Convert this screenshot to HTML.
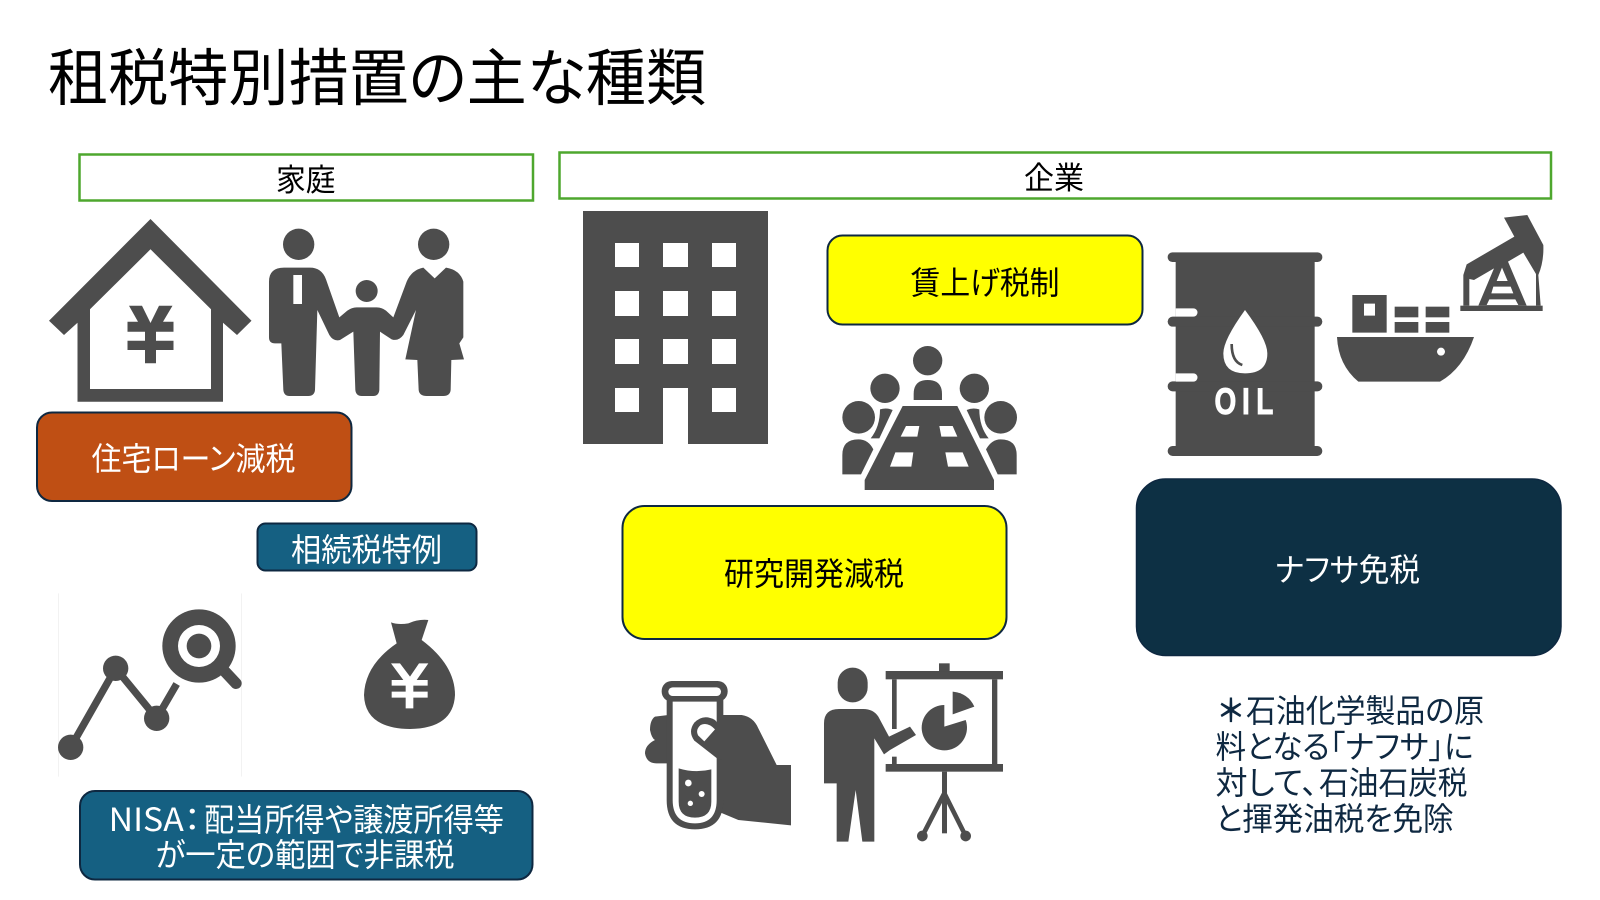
<!DOCTYPE html>
<html lang="ja"><head><meta charset="utf-8"><title>租税特別措置の主な種類</title>
<style>
html,body{margin:0;padding:0;background:#fff;width:1600px;height:900px;overflow:hidden}
svg{display:block}
text{font-family:"Noto Sans CJK JP","Liberation Sans",sans-serif;font-weight:400;font-feature-settings:"palt"}
</style></head><body>
<svg xmlns="http://www.w3.org/2000/svg" width="1600" height="900" viewBox="0 0 1600 900">
<rect width="1600" height="900" fill="#fff"/>
<text x="48" y="100" font-size="62" textLength="658" lengthAdjust="spacingAndGlyphs" fill="#000">租税特別措置の主な種類</text>

<rect x="79.5" y="154.5" width="453.5" height="46" fill="#fff" stroke="#4EA72E" stroke-width="2.5"/>
<rect x="559.5" y="152.5" width="991.5" height="46" fill="#fff" stroke="#4EA72E" stroke-width="2.5"/>
<text x="276" y="191" font-size="31" textLength="59.5" lengthAdjust="spacingAndGlyphs" fill="#000">家庭</text>
<text x="1024" y="189" font-size="31" textLength="60" lengthAdjust="spacingAndGlyphs" fill="#000">企業</text>

<!-- house -->
<path fill="#4d4d4d" fill-rule="evenodd" d="M150.5,219 L251.5,320.7 L237,335 L223,322.7 V401.7 H77.5 V322.7 L64,335 L49,320.7 Z M150.5,249.3 L90,309.3 V389 H211 V309.3 Z"/>
<path fill="#4d4d4d" d="M129,305.7 H142 L150.5,323 L159,305.7 H172.5 L163,321.7 H173.5 V331.7 H156 V340.7 H173.5 V350 H156 V363.3 H145 V350 H127.5 V340.7 H145 V331.7 H127.5 V321.7 H138 Z"/>

<!-- family -->
<g transform="translate(260,220) scale(.33333)" fill="#4d4d4d">
<circle cx="116" cy="73" r="47"/><circle cx="521" cy="73" r="47"/><circle cx="320" cy="213" r="33"/>
<path d="M27,185 Q27,143 72,143 L150,143 Q185,143 198,178 L238,292 L262,272 Q275,262 290,262 L350,262 Q365,262 378,272 L400,292 L440,185 Q455,150 490,143 L524,175 L558,143 Q600,150 610,185 V352 L598,370 L612,418 L574,420 L572,510 Q570,528 550,528 H500 Q478,528 476,510 L472,420 L436,418 L468,270 L430,345 Q415,365 395,358 L360,335 L358,510 Q356,528 340,528 H305 Q288,528 286,510 L280,335 L240,360 Q220,365 208,345 L172,270 L165,510 Q163,528 145,528 H88 Q72,528 70,510 L64,370 H45 Q27,370 27,352 Z"/>
<rect x="100" y="165" width="26" height="87" fill="#fff"/>
</g>

<!-- building -->
<path fill="#4d4d4d" fill-rule="evenodd" d="M583,211 H768 V444 H688 V388 H663 V444 H583 Z M615,243 V267 H639 V243 Z M663,243 V267 H688 V243 Z M712,243 V267 H736 V243 Z M615,291 V316 H639 V291 Z M663,291 V316 H688 V291 Z M712,291 V316 H736 V291 Z M615,339 V364 H639 V339 Z M663,339 V364 H688 V339 Z M712,339 V364 H736 V339 Z M615,388 V412 H639 V388 Z M712,388 V412 H736 V388 Z"/>

<!-- meeting -->
<g transform="translate(830,340) scale(.33333)" fill="#4d4d4d">
<circle cx="293" cy="62" r="44"/><circle cx="165" cy="145" r="44"/><circle cx="433" cy="145" r="44"/><circle cx="86" cy="232" r="49"/><circle cx="512" cy="232" r="49"/>
<path d="M251,180 V162 Q251,120 293,120 Q336,120 336,162 V180 Z"/>
<path d="M37,403 V345 Q37,298 85,298 Q115,298 130,328 L93,403 Z"/>
<path d="M560,403 V345 Q560,298 512,298 Q485,298 468,328 L503,403 Z"/>
<path d="M150,208 Q170,202 188,210 L148,295 L122,295 Q150,260 150,208 Z"/>
<path d="M448,208 Q428,202 410,210 L450,295 L476,295 Q448,260 448,208 Z"/>
<path d="M218,198 H382 L492,420 V450 H104 V420 Z"/>
<path fill="#fff" d="M228,258 H268 L262,290 H212 Z M328,258 H368 L382,290 H334 Z M196,337 H250 L244,380 H180 Z M346,337 H398 L416,380 H354 Z"/>
</g>

<!-- barrel -->
<g transform="translate(1160,240) scale(.33333)" fill="#4d4d4d">
<rect x="47" y="50" width="417" height="585"/>
<rect x="23" y="37" width="464" height="29" rx="14"/><rect x="23" y="230" width="464" height="30" rx="15"/><rect x="23" y="424" width="464" height="30" rx="15"/><rect x="23" y="618" width="464" height="30" rx="15"/>
<path fill="#fff" d="M47,205 H100 A12.5,12.5 0 0 1 100,230 H47 Z M47,400 H100 A12.5,12.5 0 0 1 100,425 H47 Z"/>
<path fill="#fff" d="M255,210 Q190,300 190,340 Q190,400 255,400 Q322,400 322,340 Q322,300 255,210 Z"/>
<path fill="none" stroke="#4d4d4d" stroke-width="8" d="M215,312 Q215,365 247,375"/>
<text transform="scale(.75,1)" x="218 328 385" y="522" font-size="112" fill="#fff" stroke="#fff" stroke-width="3" style="font-family:'Liberation Sans',sans-serif;font-weight:700;font-feature-settings:normal">OIL</text>
</g>

<!-- ship and pump -->
<g transform="translate(1330,205) scale(.33333)" fill="#4d4d4d">
<path fill-rule="evenodd" d="M67,270 H170 V383 H67 Z M102,296 V332 H135 V296 Z"/>
<rect x="194" y="305" width="71" height="32"/><rect x="287" y="305" width="71" height="32"/><rect x="194" y="351" width="71" height="32"/><rect x="287" y="351" width="71" height="32"/>
<path d="M21,396 H432 Q400,490 330,530 H85 Q25,480 21,396 Z"/>
<circle cx="333" cy="440" r="12" fill="#fff"/>
<rect x="391" y="302" width="247" height="16"/>
<path d="M522,38 L592,30 L640,120 Q642,170 625,210 L632,302 H618 V207 L580,143 L534,170 L590,302 H445 L492,190 L432,225 L418,222 V302 H400 V210 L410,178 L553,95 Z"/>
<path fill="#fff" d="M516,188 L533,228 H500 Z M490,245 H542 L550,265 H484 Z M478,283 H556 L565,300 H470 Z"/>
</g>

<!-- test tube -->
<g transform="translate(635,670) scale(.33333)" fill="#4d4d4d">
<path d="M100,135 L60,140 Q45,150 45,180 Q50,205 60,210 Q30,225 30,250 Q35,280 65,280 H100 Z"/>
<path d="M255,135 H320 Q355,140 370,175 L425,285 H468 V466 L310,450 L250,425 Z"/>
<rect x="80" y="33" width="198" height="62" rx="30"/>
<path d="M95,90 V390 Q95,478 180,478 Q265,478 265,390 V90 Z"/>
<rect x="100" y="52" width="158" height="26" rx="13" fill="#fff"/>
<path fill="#fff" d="M113,95 H245 V390 Q245,460 180,460 Q113,460 113,390 Z"/>
<path d="M131,295 Q180,310 229,298 V395 Q229,443 180,443 Q131,443 131,395 Z"/>
<circle cx="160" cy="339" r="10" fill="#fff"/><circle cx="200" cy="372" r="9" fill="#fff"/><circle cx="166" cy="400" r="8" fill="#fff"/>
<path d="M262,175 L240,150 Q205,130 178,158 Q158,185 178,212 L250,268 L262,268 Z"/>
<path fill="#fff" d="M240,178 Q218,155 197,165 Q180,180 190,197 L208,214 Z"/>
</g>

<!-- presenter -->
<g transform="translate(815,655) scale(.33333)" fill="#4d4d4d">
<rect x="68" y="38" width="90" height="104" rx="45"/>
<path d="M27,385 V205 Q27,162 72,162 H145 Q175,162 190,185 L222,245 L285,215 L303,240 L225,285 L207,298 L178,250 V560 H142 L122,405 L100,560 H65 V385 Z"/>
<rect x="212" y="48" width="352" height="25"/><rect x="372" y="25" width="32" height="25"/><rect x="212" y="327" width="352" height="23"/>
<rect x="231" y="73" width="14" height="149"/><rect x="231" y="305" width="14" height="22"/><rect x="531" y="73" width="16" height="254"/>
<rect x="381" y="350" width="15" height="185"/>
<path fill="none" stroke="#4d4d4d" stroke-width="14" d="M322,543 L388,415 L452,543"/>
<circle cx="322" cy="543" r="16"/><circle cx="452" cy="543" r="16"/>
<path d="M388,150 V215 L452,195 A68,68 0 1 1 388,150 Z"/>
<path d="M413,110 V178 L478,155 Q460,115 413,110 Z"/>
</g>

<!-- graph -->
<g transform="translate(50,590) scale(.33333)">
<path d="M25,10 V560 M575,10 V560" stroke="#ececec" stroke-width="2" fill="none"/>
<path d="M62,472 L197,235 L320,385 L380,282" fill="none" stroke="#4d4d4d" stroke-width="22"/>
<circle cx="62" cy="472" r="38" fill="#4d4d4d"/><circle cx="197" cy="235" r="38" fill="#4d4d4d"/><circle cx="320" cy="385" r="38" fill="#4d4d4d"/>
<path d="M525,245 L558,280" stroke="#4d4d4d" stroke-width="34" stroke-linecap="round" fill="none"/>
<circle cx="447" cy="168" r="110" fill="#4d4d4d"/><circle cx="447" cy="168" r="63" fill="#fff"/><circle cx="447" cy="168" r="37" fill="#4d4d4d"/>
</g>

<!-- money bag -->
<g transform="translate(355,615) scale(.33333)">
<path fill="#4d4d4d" d="M108,22 Q130,30 160,25 Q190,12 220,15 L200,75 Q300,150 300,240 Q295,340 165,342 Q30,340 27,240 Q30,150 125,85 Z"/>
<path fill="#fff" d="M108,145 H135 L165,185 L192,145 H220 L185,195 H218 V212 H175 V230 H218 V248 H175 V280 H152 V248 H110 V230 H152 V212 H110 V195 H145 Z"/>
</g>

<!-- boxes -->
<rect x="37" y="412.5" width="314.5" height="88.5" rx="15" fill="#BF4F14" stroke="#0E2841" stroke-width="2"/>
<text x="91.5" y="470" font-size="32" textLength="204" lengthAdjust="spacingAndGlyphs" fill="#fff">住宅ローン減税</text>

<rect x="257.5" y="523.5" width="219" height="47" rx="8" fill="#156082" stroke="#0E2841" stroke-width="2"/>
<text x="291" y="561" font-size="32" textLength="151" lengthAdjust="spacingAndGlyphs" fill="#fff">相続税特例</text>

<rect x="80" y="791" width="452.5" height="88.5" rx="15" fill="#156082" stroke="#0E2841" stroke-width="2"/>
<text x="108.7" y="831" font-size="32" textLength="92" lengthAdjust="spacingAndGlyphs" fill="#fff">NISA：</text>
<text x="204" y="831" font-size="32" textLength="300" lengthAdjust="spacingAndGlyphs" fill="#fff">配当所得や譲渡所得等</text>
<text x="155.6" y="866" font-size="32" textLength="299" lengthAdjust="spacingAndGlyphs" fill="#fff">が一定の範囲で非課税</text>

<rect x="622.5" y="506" width="384" height="133" rx="22" fill="#FFFF00" stroke="#0E2841" stroke-width="2"/>
<text x="724" y="585" font-size="32" textLength="180" lengthAdjust="spacingAndGlyphs" fill="#000">研究開発減税</text>

<rect x="827.5" y="235.5" width="315" height="89" rx="15" fill="#FFFF00" stroke="#0E2841" stroke-width="2"/>
<text x="910.5" y="294" font-size="32" textLength="149" lengthAdjust="spacingAndGlyphs" fill="#000">賃上げ税制</text>

<rect x="1136.5" y="479" width="424.5" height="176.5" rx="29" fill="#0D3044" stroke="#0E2841" stroke-width="1.5"/>
<text x="1275" y="581" font-size="32" textLength="145" lengthAdjust="spacingAndGlyphs" fill="#fff">ナフサ免税</text>

<g font-size="32" fill="#0E2841">
<text x="1219" y="722" textLength="24" lengthAdjust="spacingAndGlyphs" style="font-weight:700">＊</text>
<text x="1246" y="722" textLength="238" lengthAdjust="spacingAndGlyphs">石油化学製品の原</text>
<text x="1215.5" y="758" textLength="258" lengthAdjust="spacingAndGlyphs">料となる「ナフサ」に</text>
<text x="1215.5" y="794" textLength="102" lengthAdjust="spacingAndGlyphs">対して、</text>
<text x="1319" y="794" textLength="148.5" lengthAdjust="spacingAndGlyphs">石油石炭税</text>
<text x="1215.5" y="830" textLength="238" lengthAdjust="spacingAndGlyphs">と揮発油税を免除</text>
</g>
</svg>
</body></html>
